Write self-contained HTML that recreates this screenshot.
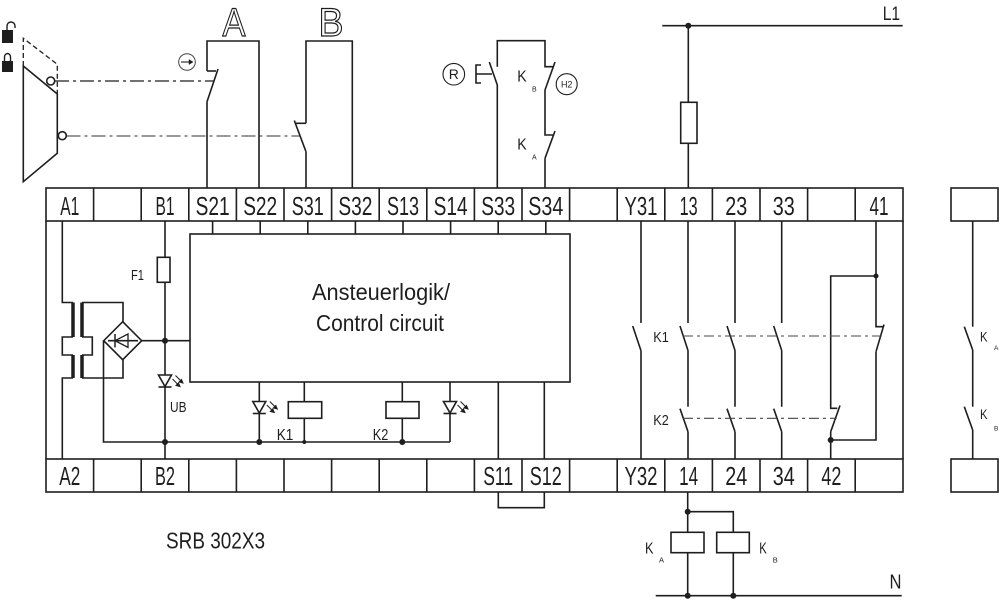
<!DOCTYPE html>
<html><head><meta charset="utf-8">
<style>
html,body{margin:0;padding:0;background:#fff;}
svg{display:block;}
text{font-family:"Liberation Sans",sans-serif;fill:#1e1e1e;stroke:none;}
</style></head><body>
<svg width="1000" height="601" viewBox="0 0 1000 601" xmlns="http://www.w3.org/2000/svg">
<rect x="0" y="0" width="1000" height="601" fill="#fff"/>

<!-- lock icons -->
<rect x="2" y="30" width="11" height="13" fill="#1e1e1e"/>
<path d="M7,30 V26 A4,4 0 0 1 15,26 V28" fill="none" stroke="#1e1e1e" stroke-width="1.4"/>
<rect x="2" y="61" width="11" height="11" fill="#1e1e1e"/>
<path d="M4.5,61 V57 A3,3.5 0 0 1 10.5,57 V61" fill="none" stroke="#1e1e1e" stroke-width="1.4"/>

<g fill="none" stroke="#1e1e1e" stroke-width="1.6" stroke-linecap="butt">
<!-- actuator -->
<path d="M23.3,66 L57.3,94 L57.3,153.3 L23.3,181.7 Z"/>
<path d="M23.3,66 V38.3 L57.3,64.3 V94" stroke-dasharray="5,3" stroke-width="1.3"/>
<path d="M55,81 H214" stroke-dasharray="14,4,3,4" stroke-width="1.3"/>
<path d="M66.5,136 H300" stroke="#777" stroke-dasharray="14,4,3,4" stroke-width="1.4"/>
<circle cx="50.7" cy="81" r="4" fill="#fff"/>
<circle cx="62.3" cy="135.7" r="4" fill="#fff"/>

<!-- rotation icon -->
<circle cx="187" cy="62" r="8.3" stroke-width="1" stroke="#444"/>
<path d="M181,62 H192" stroke-width="1.1"/>
<path d="M189,59.5 L193,62 L189,64.5 Z" fill="#1e1e1e" stroke-width="0.5"/>

<!-- A switch -->
<path d="M207,71 V41 H259 V188"/>
<path d="M207,71 H216"/>
<path d="M207,101.7 L218,69"/>
<path d="M207,101.7 V188"/>
<!-- B switch -->
<path d="M306,123.3 V41 H352.3 V188"/>
<path d="M306,123.3 H295"/>
<path d="M306,151.7 L294.3,120.5"/>
<path d="M306,151.7 V188"/>

<!-- S33/S34 chain -->
<path d="M497.3,188 V85 L489.3,62"/>
<path d="M497.3,66.7 V40.7 H545 V66.7 H553.3"/>
<path d="M545,90 L555,62"/>
<path d="M545,90 V135 H553.3"/>
<path d="M545,158.3 L555,131"/>
<path d="M545,158.3 V188"/>
<path d="M481,65 H476 V83 H481 M476,74 H492"/>
<circle cx="453.8" cy="74.2" r="10.8" stroke-width="1.1"/>
<circle cx="566.7" cy="84.2" r="10.5" stroke-width="1.1"/>

<!-- L1 -->
<path d="M662.3,25.7 H902.7"/>
<path d="M688.3,25.7 V188"/>
<rect x="680.7" y="102.3" width="16.3" height="41" fill="#fff"/>

<!-- terminal rows -->
<rect x="46" y="188" width="857" height="33"/>
<rect x="46" y="459" width="857" height="33"/>
<path d="M46,221 V459 M903,221 V459"/>
<path d="M93.6,188 V221 M141.2,188 V221 M188.8,188 V221 M236.4,188 V221 M284,188 V221 M331.6,188 V221 M379.2,188 V221 M426.8,188 V221 M474.4,188 V221 M522,188 V221 M569.6,188 V221 M617.2,188 V221 M664.8,188 V221 M712.4,188 V221 M760,188 V221 M807.6,188 V221 M855.2,188 V221"/>
<path d="M93.6,459 V492 M141.2,459 V492 M188.8,459 V492 M236.4,459 V492 M284,459 V492 M331.6,459 V492 M379.2,459 V492 M426.8,459 V492 M474.4,459 V492 M522,459 V492 M569.6,459 V492 M617.2,459 V492 M664.8,459 V492 M712.4,459 V492 M760,459 V492 M807.6,459 V492 M855.2,459 V492"/>

<!-- far right boxes -->
<rect x="951" y="188" width="47" height="33"/>
<rect x="951" y="459" width="47" height="33"/>
<path d="M972.7,221 V326.7"/>
<path d="M964.3,326.7 L972.7,350"/>
<path d="M972.7,350 V406.7"/>
<path d="M964.3,406.7 L972.7,430"/>
<path d="M972.7,430 V459"/>

<!-- control box -->
<rect x="190" y="234" width="380" height="148"/>
<path d="M212.6,221 V234 M260.2,221 V234 M307.8,221 V234 M355.4,221 V234 M403,221 V234 M450.6,221 V234 M498.2,221 V234 M545.8,221 V234"/>

<!-- transformer -->
<path d="M62.3,221 V302.5 H73"/>
<path d="M62.3,459 V378 H73"/>
<path d="M73,302.5 V337 M73,355 V378 M82,302.5 V337 M82,355 V378" stroke-width="3.5"/>
<path d="M73,337 H62.3 V355 H73"/>
<path d="M82,337 H92.3 V355 H82"/>
<path d="M82,302.5 H123 V321.7"/>
<path d="M82,378 H123 V359.7"/>
<!-- bridge -->
<path d="M122.7,321.7 L141.7,340.7 L122.7,359.7 L103.7,340.7 Z"/>
<path d="M108,340.7 H138"/>
<path d="M115,340.7 L128,334 L128,347.4 Z" stroke-width="1.3"/>
<path d="M115,334 V347.4" stroke-width="1.5"/>
<path d="M103.5,340.7 V442 H450"/>
<path d="M141.7,340.7 H190"/>

<!-- B1 line -->
<path d="M165,221 V257.3"/>
<rect x="157.3" y="257.3" width="12.7" height="25" fill="#fff"/>
<path d="M165,282.3 V375"/>
<path d="M158.5,375 H171.5 L165,386.5 Z"/>
<path d="M158.5,387 H171.5"/>
<path d="M165,387 V459"/>

<!-- LED1 -->
<path d="M259.3,382 V401.5"/>
<path d="M252.8,401.5 H265.8 L259.3,413 Z"/>
<path d="M252.8,413.5 H265.8"/>
<path d="M259.3,413.5 V442"/>
<!-- K1 coil -->
<path d="M304.3,382 V401.7 M304.3,418.3 V442"/>
<rect x="288.3" y="401.7" width="33.4" height="16.6"/>
<!-- K2 coil -->
<path d="M402.3,382 V401.7 M402.3,418.3 V442"/>
<rect x="386" y="401.7" width="33" height="16.6"/>
<!-- LED2 -->
<path d="M450,382 V401.5"/>
<path d="M443.5,401.5 H456.5 L450,413 Z"/>
<path d="M443.5,413.5 H456.5"/>
<path d="M450,413.5 V442"/>

<!-- S11 S12 -->
<path d="M498.3,382 V459 M544.3,382 V459"/>
<path d="M498.3,492 V507.7 H544.3 V492"/>

<!-- right section -->
<path d="M641,221 V323"/>
<path d="M632.7,326 L641,350.7"/>
<path d="M641,350.7 V459"/>

<path d="M688,221 V323 M680,326 L688,350.5 M688,350.5 V406.7 M680,408.7 L688,431.7 M688,431.7 V459"/>
<path d="M735,221 V323 M727,326 L735,350.5 M735,350.5 V406.7 M727,408.7 L735,431.7 M735,431.7 V459"/>
<path d="M781.7,221 V323 M773.7,326 L781.7,350.5 M781.7,350.5 V406.7 M773.7,408.7 L781.7,431.7 M781.7,431.7 V459"/>

<path d="M876,221 V326.7 H883.3"/>
<path d="M876,351.7 L884,324.5"/>
<path d="M876,351.7 V440 H830.7"/>
<path d="M876,276 H830.7 V408.3 H837.3"/>
<path d="M830.7,431.7 L840,405.5"/>
<path d="M830.7,431.7 V459"/>

<path d="M683,336 H881.7" stroke="#444" stroke-width="1.1" stroke-dasharray="10,4,3,4"/>
<path d="M683,418.3 H836.7" stroke="#444" stroke-width="1.1" stroke-dasharray="10,4,3,4"/>

<!-- bottom right -->
<path d="M687.7,492 V595.7"/>
<path d="M687.7,511.7 H733.3 V595.7"/>
<rect x="671" y="532.3" width="33" height="20.4" fill="#fff"/>
<rect x="716.7" y="532.3" width="32.6" height="20.4" fill="#fff"/>
<path d="M655.7,595.7 H901.7"/>
</g>

<!-- LED arrows -->
<g stroke="#1e1e1e" stroke-width="1" fill="#1e1e1e">
<path d="M172.5,379 L179,385.5 M175.5,375.5 L182,382" fill="none"/>
<path d="M180,386.5 L176,385.5 L178.5,383 Z M183,383 L179,382 L181.5,379.5 Z"/>
<path d="M266.8,405 L273.3,411.5 M269.8,401.5 L276.3,408" fill="none"/>
<path d="M274.3,412.5 L270.3,411.5 L272.8,409 Z M277.3,409 L273.3,408 L275.8,405.5 Z"/>
<path d="M457.5,405 L464,411.5 M460.5,401.5 L467,408" fill="none"/>
<path d="M465,412.5 L461,411.5 L463.5,409 Z M468,409 L464,408 L466.5,405.5 Z"/>
</g>

<!-- dots -->
<g fill="#1e1e1e">
<circle cx="165" cy="340.7" r="3"/>
<circle cx="165" cy="442" r="3"/>
<circle cx="259.3" cy="442" r="3"/>
<circle cx="304.3" cy="442" r="2"/>
<circle cx="402.3" cy="442" r="3"/>
<circle cx="688.3" cy="25.7" r="3"/>
<circle cx="876" cy="276" r="2.5"/>
<circle cx="830.7" cy="440" r="3"/>
<circle cx="687.7" cy="511.7" r="3"/>
<circle cx="687.7" cy="595.7" r="3"/>
<circle cx="733.3" cy="595.7" r="3"/>
</g>

<!-- outline letters A B -->
<text x="234" y="36" font-size="40" text-anchor="middle" textLength="23" lengthAdjust="spacingAndGlyphs" style="fill:#fff;stroke:#1e1e1e;stroke-width:1.2">A</text>
<text x="331" y="36" font-size="40" text-anchor="middle" textLength="25" lengthAdjust="spacingAndGlyphs" style="fill:#fff;stroke:#1e1e1e;stroke-width:1.2">B</text>

<!-- terminal labels top -->
<g font-size="26" text-anchor="middle">
<text x="69.8" y="215" textLength="19" lengthAdjust="spacingAndGlyphs">A1</text>
<text x="165" y="215" textLength="19" lengthAdjust="spacingAndGlyphs">B1</text>
<text x="212.6" y="215" textLength="34" lengthAdjust="spacingAndGlyphs">S21</text>
<text x="260.2" y="215" textLength="34" lengthAdjust="spacingAndGlyphs">S22</text>
<text x="307.8" y="215" textLength="32" lengthAdjust="spacingAndGlyphs">S31</text>
<text x="355.4" y="215" textLength="34" lengthAdjust="spacingAndGlyphs">S32</text>
<text x="403" y="215" textLength="32" lengthAdjust="spacingAndGlyphs">S13</text>
<text x="450.6" y="215" textLength="34" lengthAdjust="spacingAndGlyphs">S14</text>
<text x="498.2" y="215" textLength="34" lengthAdjust="spacingAndGlyphs">S33</text>
<text x="545.8" y="215" textLength="35" lengthAdjust="spacingAndGlyphs">S34</text>
<text x="641" y="215" textLength="33" lengthAdjust="spacingAndGlyphs">Y31</text>
<text x="688.6" y="215" textLength="18" lengthAdjust="spacingAndGlyphs">13</text>
<text x="736.2" y="215" textLength="22" lengthAdjust="spacingAndGlyphs">23</text>
<text x="783.8" y="215" textLength="22" lengthAdjust="spacingAndGlyphs">33</text>
<text x="879" y="215" textLength="19" lengthAdjust="spacingAndGlyphs">41</text>
<!-- bottom -->
<text x="69.8" y="485" textLength="21" lengthAdjust="spacingAndGlyphs">A2</text>
<text x="165" y="485" textLength="20" lengthAdjust="spacingAndGlyphs">B2</text>
<text x="498.2" y="485" textLength="30" lengthAdjust="spacingAndGlyphs">S11</text>
<text x="545.8" y="485" textLength="32" lengthAdjust="spacingAndGlyphs">S12</text>
<text x="641" y="485" textLength="33" lengthAdjust="spacingAndGlyphs">Y32</text>
<text x="688.6" y="485" textLength="19" lengthAdjust="spacingAndGlyphs">14</text>
<text x="736.2" y="485" textLength="22" lengthAdjust="spacingAndGlyphs">24</text>
<text x="783.8" y="485" textLength="22" lengthAdjust="spacingAndGlyphs">34</text>
<text x="831.4" y="485" textLength="20" lengthAdjust="spacingAndGlyphs">42</text>
</g>

<!-- control box text -->
<text x="381" y="300" font-size="23" text-anchor="middle" textLength="138" lengthAdjust="spacingAndGlyphs">Ansteuerlogik/</text>
<text x="380" y="331" font-size="23" text-anchor="middle" textLength="128" lengthAdjust="spacingAndGlyphs">Control circuit</text>

<!-- misc labels -->
<text x="137.5" y="280" font-size="15" text-anchor="middle" textLength="13" lengthAdjust="spacingAndGlyphs">F1</text>
<text x="170" y="412" font-size="15" textLength="16.5" lengthAdjust="spacingAndGlyphs">UB</text>
<text x="276.7" y="440" font-size="16" textLength="16.6" lengthAdjust="spacingAndGlyphs">K1</text>
<text x="372.7" y="440" font-size="16" textLength="15.6" lengthAdjust="spacingAndGlyphs">K2</text>
<text x="653.3" y="342" font-size="15" textLength="15.5" lengthAdjust="spacingAndGlyphs">K1</text>
<text x="653.3" y="425" font-size="15" textLength="15.5" lengthAdjust="spacingAndGlyphs">K2</text>
<text x="166" y="548.5" font-size="23" textLength="99" lengthAdjust="spacingAndGlyphs">SRB 302X3</text>
<text x="882.7" y="20" font-size="19" textLength="17.3" lengthAdjust="spacingAndGlyphs">L1</text>
<text x="889.5" y="588.5" font-size="20" textLength="12" lengthAdjust="spacingAndGlyphs">N</text>

<!-- R / H2 -->
<text x="453.8" y="79.2" font-size="14" text-anchor="middle">R</text>
<text x="566.7" y="87.5" font-size="9" text-anchor="middle">H2</text>

<!-- K_B / K_A top -->
<text x="517.3" y="81.7" font-size="16" textLength="9.4" lengthAdjust="spacingAndGlyphs">K</text>
<text x="532" y="91.7" font-size="7">B</text>
<text x="517.3" y="149.3" font-size="16" textLength="9.4" lengthAdjust="spacingAndGlyphs">K</text>
<text x="532" y="159.3" font-size="7">A</text>

<!-- far right K labels -->
<text x="980" y="341.7" font-size="14" textLength="7.5" lengthAdjust="spacingAndGlyphs">K</text>
<text x="994" y="350" font-size="6.5">A</text>
<text x="980" y="419" font-size="14" textLength="7.5" lengthAdjust="spacingAndGlyphs">K</text>
<text x="994" y="430.7" font-size="6.5">B</text>

<!-- bottom K labels -->
<text x="645" y="553.3" font-size="16" textLength="8.5" lengthAdjust="spacingAndGlyphs">K</text>
<text x="659" y="562.3" font-size="7.5">A</text>
<text x="759.3" y="553.3" font-size="16" textLength="7.5" lengthAdjust="spacingAndGlyphs">K</text>
<text x="772.7" y="562.3" font-size="7.5">B</text>
</svg>
</body></html>
